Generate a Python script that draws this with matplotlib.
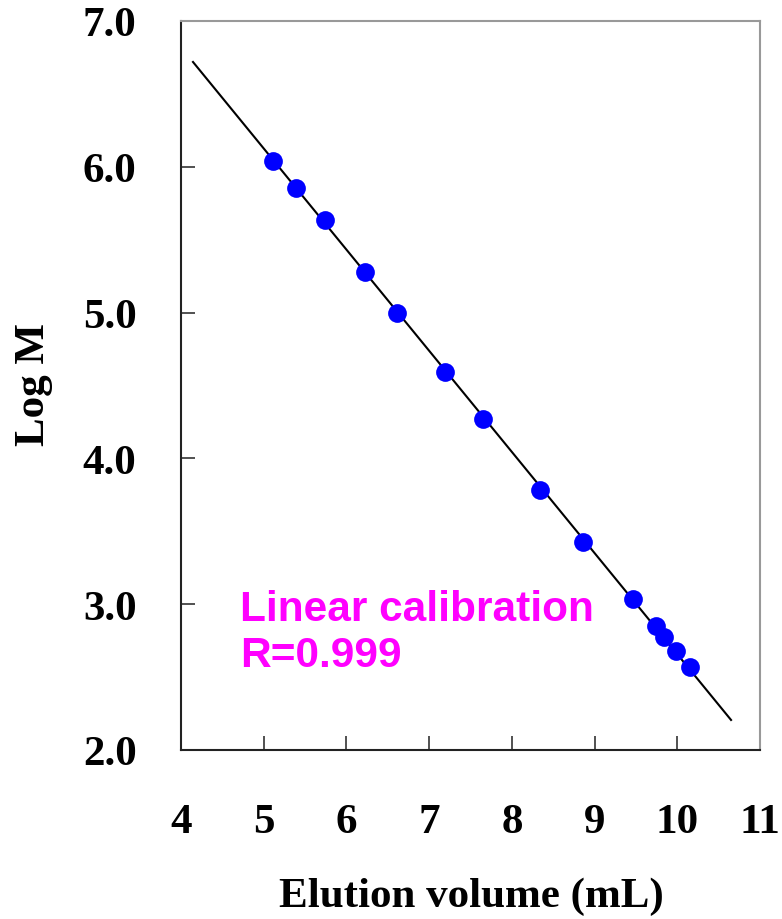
import matplotlib
matplotlib.use("Agg")
import matplotlib.pyplot as plt
import numpy as np

elution = [5.11, 5.39, 5.74, 6.23, 6.61, 7.19, 7.65, 8.34, 8.86, 9.46, 9.74, 9.84, 9.99, 10.15]
logm = [6.04, 5.855, 5.635, 5.278, 4.997, 4.593, 4.270, 3.783, 3.427, 3.036, 2.850, 2.775, 2.679, 2.569]
fit_x = [4.145, 10.65]
fit_y = [6.719, 2.206]
xticks = [4, 5, 6, 7, 8, 9, 10, 11]
yticks = [2.0, 3.0, 4.0, 5.0, 6.0, 7.0]

fig = plt.figure(figsize=(7.82, 9.2), dpi=100)
ax = fig.add_axes([181/782, 1-751/920, (760-181)/782, (751-22)/920])

ax.plot(fit_x, fit_y, color="black", lw=1.5, zorder=2)
ax.plot(elution, logm, "o", color="#0000ff", ms=13.5, mec="none", zorder=3)

ax.set_xlim(4, 11)
ax.set_ylim(2.0, 7.0)
ax.set_xticks(xticks)
ax.set_yticks(yticks)
ax.set_yticklabels([f"{v:.1f}" for v in yticks])
ax.tick_params(direction="in", length=10, width=1.2, color="#333333")
ax.tick_params(axis="x", pad=38)
ax.tick_params(axis="y", pad=32)
for lab in ax.get_xticklabels() + ax.get_yticklabels():
    lab.set_fontfamily("Liberation Serif")
    lab.set_fontweight("bold")
    lab.set_fontsize(31)

ax.spines["left"].set_color("#222222")
ax.spines["bottom"].set_color("#222222")
ax.spines["left"].set_linewidth(1.5)
ax.spines["bottom"].set_linewidth(1.5)
ax.spines["top"].set_color("#999999")
ax.spines["right"].set_color("#999999")
ax.spines["top"].set_linewidth(1.5)
ax.spines["right"].set_linewidth(1.5)

ax.set_xlabel("Elution volume (mL)", fontfamily="Liberation Serif", fontweight="bold", fontsize=31)
ax.set_ylabel("Log M", fontfamily="Liberation Serif", fontweight="bold", fontsize=31)
ax.xaxis.set_label_coords((471-181)/(760-181), -(897-751)/(751-22), transform=ax.transAxes)
ax.xaxis.label.set_va("center")
ax.yaxis.set_label_coords(-(181-34)/(760-181), (751-385)/(751-22), transform=ax.transAxes)
ax.yaxis.label.set_va("center")

ax.text((240-181)/579, (751-676)/729, "Linear calibration\nR=0.999", transform=ax.transAxes, color="#ff00ff",
        fontfamily="Liberation Sans", fontweight="bold", fontsize=30.5, linespacing=1.2, va="bottom", ha="left")

fig.savefig("out.png", dpi=100)
